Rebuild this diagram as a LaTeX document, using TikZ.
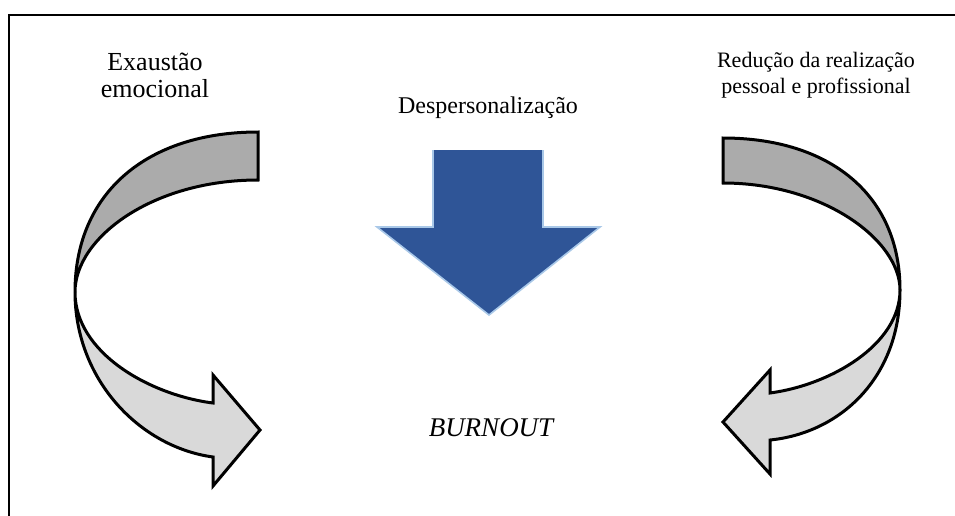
\documentclass[tikz,border=0pt]{standalone}
\usepackage{fontspec}
\setmainfont{Liberation Serif}
\definecolor{darkband}{HTML}{ABABAB}
\definecolor{lightband}{HTML}{D9D9D9}
\definecolor{bluefill}{HTML}{2F5597}
\definecolor{blueedge}{HTML}{A9C8E8}
\begin{document}
\begin{tikzpicture}[x=1pt,y=-1pt,
  band/.style={draw=black,line width=3pt,line join=miter,miter limit=4},
  lbl/.style={align=center, inner sep=0pt},
  frameline/.style={line width=2.6pt,draw=black}]
\useasboundingbox (0,0) rectangle (955,515);
\fill[white] (0,0) rectangle (955,515);
% frame (left and top edges visible)
\coordinate (fbl) at (9,520);
\coordinate (ftl) at (9,15);
\coordinate (ftr) at (960,15);
\draw[frameline] (fbl) -- (ftl) -- (ftr);

% texts
\node[lbl,font=\fontsize{26}{27}\selectfont] (exa) at (155,75) {Exaustão\\emocional};
\node[lbl,font=\fontsize{24}{26}\selectfont] (desp) at (488,108) {Despersonalização};
\node[lbl,font=\fontsize{22}{26}\selectfont] (red) at (816,75) {Redução da realização\\pessoal e profissional};
\node[lbl,font=\fontsize{27}{28}\selectfont\itshape] (burn) at (491,428) {BURNOUT};

% left curved arrow
\filldraw[band,fill=darkband] (258,132) .. controls (148,132) and (75,192) .. (75,292)
  .. controls (75,238) and (152,180) .. (258,180) -- cycle;
\filldraw[band,fill=lightband] (75,292) .. controls (75,380) and (140,447) .. (213,457)
  -- (213,486) -- (260,430) -- (213,375) -- (213,403)
  .. controls (150,395) and (75,353) .. (75,292) -- cycle;

% right curved arrow
\filldraw[band,fill=darkband] (723,138) .. controls (830,138) and (900,195) .. (900,290)
  .. controls (900,240) and (823,183) .. (723,183) -- cycle;
\filldraw[band,fill=lightband] (900,290) .. controls (900,378) and (840,433) .. (770,440)
  -- (770,474) -- (723,422) -- (770,370) -- (770,393)
  .. controls (830,385) and (900,345) .. (900,290) -- cycle;

% middle down arrow
\fill[bluefill] (433,150) -- (543,150) -- (543,227) -- (600,227) -- (489,315)
  -- (377,227) -- (433,227) -- cycle;
\draw[blueedge,line width=1.6pt,line join=miter] (543,150) -- (543,227) -- (600,227) -- (489,315)
  -- (377,227) -- (433,227) -- (433,150);
\end{tikzpicture}
\end{document}
